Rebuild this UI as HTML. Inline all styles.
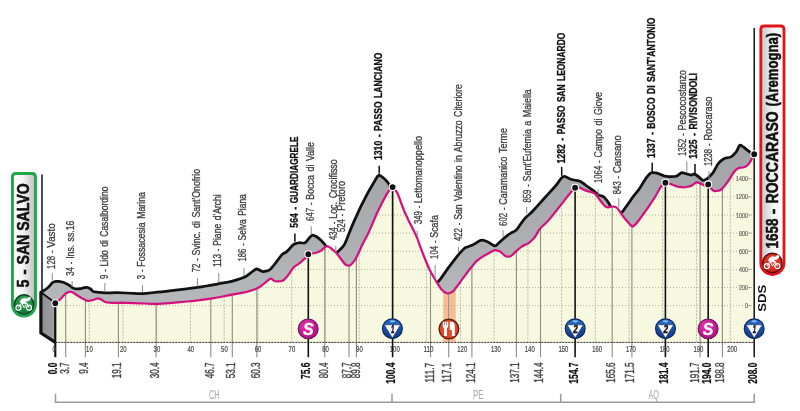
<!DOCTYPE html>
<html lang="it"><head><meta charset="utf-8"><title>Tappa 9 - San Salvo - Roccaraso (Aremogna)</title>
<style>html,body{margin:0;padding:0;background:#fff}svg{display:block}text{font-family:"Liberation Sans",sans-serif}</style></head><body>
<svg width="800" height="411" viewBox="0 0 800 411">
<defs>
<clipPath id="cf"><path d="M55.6,303.2L58.1,301.1Q59.2,300.2 60.4,299.0L61.9,297.5Q63.1,296.3 64.0,295.3L65.1,294.0Q66.0,293.0 67.2,292.6L68.8,292.0Q70.0,291.6 70.8,291.8L71.8,292.0Q72.5,292.2 74.5,293.5L77.0,295.2Q79.0,296.5 81.5,297.9L84.9,299.7Q87.4,301.1 88.8,300.9L90.6,300.5Q92.0,300.3 93.8,299.7L96.3,298.8Q98.1,298.2 99.1,298.6L100.5,299.1Q101.5,299.5 102.5,300.3L103.9,301.3Q104.9,302.1 107.0,302.4L109.9,302.7Q112.0,303.0 114.4,302.9L117.6,302.8Q120.0,302.7 126.0,302.8L134.0,303.1Q140.0,303.2 144.8,303.5L151.2,303.8Q156.0,304.1 161.7,303.7L169.3,303.1Q175.0,302.6 180.1,302.1L186.9,301.5Q192.0,301.0 197.8,300.3L205.6,299.3Q211.4,298.6 214.0,298.1L217.4,297.5Q220.0,297.0 222.8,296.5L226.7,295.7Q229.5,295.2 234.8,294.2L241.8,292.9Q247.0,291.9 250.5,290.7L255.1,289.2Q258.6,288.0 260.9,286.1L264.1,283.5Q266.4,281.6 267.7,280.6L269.4,279.2Q270.7,278.2 272.1,279.2L273.8,280.6Q275.2,281.6 277.5,281.4L280.7,281.2Q283.0,281.0 284.4,279.4L286.4,277.3Q287.8,275.7 289.6,273.1L291.9,269.6Q293.7,267.0 295.1,266.1L297.1,264.9Q298.5,264.0 300.5,262.3L303.3,259.9Q305.3,258.2 306.2,257.0L307.3,255.5Q308.2,254.3 309.9,254.1L312.1,253.7Q313.8,253.5 316.0,252.8L318.8,251.8Q321.0,251.0 322.6,249.4L324.8,247.3Q326.4,245.7 327.6,246.3L329.1,247.1Q330.3,247.7 332.0,249.1L334.4,251.1Q336.1,252.5 338.7,256.0L342.3,260.7Q344.9,264.2 345.8,264.7L346.9,265.3Q347.8,265.8 348.7,265.6L349.8,265.4Q350.7,265.2 352.2,263.4L354.1,261.1Q355.6,259.3 357.6,255.0L360.2,249.3Q362.1,245.0 364.1,241.2L366.9,236.0Q368.9,232.2 371.2,226.6L374.4,219.2Q376.7,213.7 378.7,209.6L381.5,204.1Q383.5,200.0 385.0,197.4L386.9,193.9Q388.4,191.3 389.6,190.0L391.1,188.2Q392.3,186.8 393.8,188.4L395.7,190.6Q397.2,192.2 399.4,198.0L402.2,205.8Q404.4,211.7 406.3,215.5L408.7,220.7Q410.6,224.5 412.4,227.9L414.7,232.6Q416.5,236.0 417.9,240.0L419.7,245.2Q421.1,249.2 423.4,255.0L426.6,262.8Q428.9,268.6 431.2,272.7L434.4,278.2Q436.7,282.3 438.2,284.6L440.1,287.7Q441.6,290.0 443.3,291.2L445.7,292.7Q447.4,293.9 449.1,293.2L451.5,292.3Q453.2,291.6 455.2,288.8L458.0,285.1Q460.0,282.3 462.3,279.1L465.5,274.8Q467.8,271.6 470.1,268.7L473.3,264.7Q475.6,261.8 477.3,260.5L479.7,258.7Q481.4,257.4 483.7,256.0L486.9,254.2Q489.2,252.8 490.9,251.9L493.3,250.8Q495.0,249.9 496.5,250.3L498.4,250.8Q499.9,251.2 501.6,252.8L504.0,255.0Q505.7,256.7 507.2,256.7L509.1,256.7Q510.6,256.7 512.3,255.0L514.7,252.6Q516.4,250.9 518.2,249.4L520.5,247.5Q522.3,246.0 524.3,245.1L527.1,244.0Q529.1,243.1 530.8,241.3L533.2,239.0Q534.9,237.2 536.4,234.6L538.3,231.1Q539.8,228.5 542.1,226.5L545.2,223.7Q547.5,221.7 550.6,217.9L554.7,212.7Q557.8,208.9 560.7,205.1L564.6,200.1Q567.5,196.3 569.0,194.5L570.9,192.2Q572.4,190.4 573.2,189.6L574.2,188.6Q575.0,187.8 576.3,187.6L578.0,187.4Q579.3,187.2 580.8,188.1L582.7,189.3Q584.2,190.2 587.4,191.1L591.7,192.2Q594.9,193.1 596.3,195.1L598.3,197.9Q599.7,199.9 601.6,202.2L604.1,205.4Q606.0,207.7 608.2,207.3L611.2,206.7Q613.4,206.3 614.6,206.7L616.1,207.3Q617.3,207.7 619.0,210.3L621.4,213.8Q623.1,216.4 624.8,218.4L627.2,221.2Q628.9,223.2 629.9,224.4L631.4,225.9Q632.4,227.1 633.7,225.9L635.4,224.4Q636.7,223.2 639.0,220.0L642.2,215.7Q644.5,212.5 645.4,211.3L646.6,209.6Q647.5,208.4 649.8,204.9L653.0,200.2Q655.3,196.7 657.0,193.5L659.4,189.2Q661.1,186.0 662.5,185.0L664.2,183.7Q665.6,182.7 667.2,183.1L669.3,183.6Q670.9,184.0 672.6,184.8L675.0,185.8Q676.7,186.6 679.0,186.8L682.2,187.2Q684.5,187.4 686.5,187.0L689.3,186.4Q691.3,186.0 692.7,184.8L694.7,183.3Q696.1,182.1 697.3,182.4L698.8,182.8Q700.0,183.1 701.5,184.0L703.4,185.1Q704.9,186.0 705.9,185.5L707.2,184.9Q708.2,184.4 709.2,185.9L710.7,187.9Q711.7,189.4 712.6,190.0L713.7,190.7Q714.6,191.3 716.3,191.0L718.7,190.6Q720.4,190.3 721.6,189.1L723.1,187.6Q724.3,186.4 725.8,184.4L727.7,181.6Q729.2,179.6 730.6,177.3L732.6,174.1Q734.0,171.8 735.2,170.6L736.7,169.1Q737.9,167.9 740.2,167.6L743.4,167.3Q745.7,167.0 746.9,165.8L748.4,164.3Q749.6,163.1 750.5,161.3L751.6,159.0Q752.5,157.2 753.0,156.3L754.1,154.3L754.1,342.4L55.3,342.4Z"/></clipPath>
<linearGradient id="gband" gradientUnits="userSpaceOnUse" x1="0" y1="140" x2="0" y2="310"><stop offset="0" stop-color="#a0a2a5"/><stop offset="1" stop-color="#b6b8bb"/></linearGradient>
<linearGradient id="gside" x1="0" y1="0" x2="1" y2="0"><stop offset="0" stop-color="#8e8f93"/><stop offset="1" stop-color="#a0a1a5"/></linearGradient>
<linearGradient id="gstart" x1="0" y1="0" x2="1" y2="0"><stop offset="0" stop-color="#ffffff"/><stop offset="0.45" stop-color="#f4f4f4"/><stop offset="1" stop-color="#bdbdbf"/></linearGradient>
<linearGradient id="gfin" x1="0" y1="0" x2="1" y2="0"><stop offset="0" stop-color="#c4c5c7"/><stop offset="0.55" stop-color="#f6f6f6"/><stop offset="1" stop-color="#ffffff"/></linearGradient>
<radialGradient id="gS" cx="0.4" cy="0.35" r="0.8"><stop offset="0" stop-color="#e23cae"/><stop offset="0.6" stop-color="#c0198f"/><stop offset="1" stop-color="#8f1070"/></radialGradient>
<linearGradient id="gB" x1="0" y1="0" x2="0" y2="1"><stop offset="0" stop-color="#2f72c8"/><stop offset="0.5" stop-color="#1b4fa3"/><stop offset="1" stop-color="#143a80"/></linearGradient>
<radialGradient id="gG" cx="0.5" cy="0.3" r="0.8"><stop offset="0" stop-color="#3aa858"/><stop offset="1" stop-color="#0c6f30"/></radialGradient>
<radialGradient id="gR" cx="0.5" cy="0.4" r="0.8"><stop offset="0" stop-color="#e8452c"/><stop offset="1" stop-color="#c4141a"/></radialGradient>
</defs>
<rect width="800" height="411" fill="#fff"/>
<path d="M40.9,292.3L44.2,290.3Q45.6,289.5 46.8,288.5L48.3,287.3Q49.5,286.3 50.4,285.0L51.7,283.3Q52.6,282.0 54.0,281.8L55.9,281.4Q57.3,281.2 59.0,281.4L61.4,281.8Q63.1,282.0 65.2,283.1L67.9,284.5Q70.0,285.6 71.1,286.6L72.7,287.8Q73.8,288.8 75.5,288.8L77.9,288.9Q79.6,288.9 81.6,288.4L84.4,287.6Q86.4,287.1 87.6,287.5L89.1,288.1Q90.3,288.5 91.2,289.5L92.3,290.8Q93.2,291.8 97.0,292.2L102.1,292.6Q105.9,293.0 110.1,292.9L115.8,292.7Q120.0,292.6 126.1,293.0L134.3,293.4Q140.4,293.8 146.3,293.3L154.1,292.5Q160.0,292.0 171.3,290.6L186.5,288.8Q197.8,287.4 201.5,286.8L206.3,286.0Q210.0,285.4 213.0,284.8L217.0,284.1Q220.0,283.5 223.4,282.9L228.0,282.2Q231.4,281.6 235.8,280.1L241.6,278.2Q246.0,276.7 247.7,275.2L250.1,273.3Q251.8,271.8 253.3,270.8L255.2,269.5Q256.7,268.5 258.4,269.5L260.8,270.8Q262.5,271.8 264.5,271.4L267.3,270.9Q269.3,270.5 270.8,268.9L272.7,266.6Q274.2,265.0 276.5,261.8L279.7,257.5Q282.0,254.3 283.4,253.6L285.4,252.6Q286.8,251.8 288.9,249.5L291.6,246.3Q293.7,244.0 295.4,243.6L297.8,243.0Q299.5,242.6 301.2,242.8L303.6,243.0Q305.3,243.2 307.2,240.6L309.9,237.2Q311.8,234.6 313.3,235.2L315.2,236.0Q316.7,236.6 318.2,237.9L320.1,239.6Q321.6,240.9 322.7,242.2L324.3,243.8Q325.4,245.1 326.5,246.6L327.9,248.5Q329.0,250.0 330.3,251.5L332.0,253.4Q333.3,254.9 334.4,254.2L336.0,253.2Q337.1,252.5 339.4,250.2L342.4,247.2Q344.6,245.0 346.6,239.7L349.4,232.6Q351.4,227.3 353.7,222.1L356.9,215.1Q359.2,209.8 361.5,205.1L364.7,198.9Q367.0,194.2 369.0,190.7L371.8,186.0Q373.8,182.5 375.3,180.0L377.2,176.8Q378.7,174.3 380.7,175.9L383.5,178.0Q385.5,179.6 386.7,181.1L388.2,183.0Q389.4,184.5 390.2,187.9L391.2,192.6Q392.0,196.0 394.4,203.2L397.6,212.8Q400.0,220.0 403.0,227.5L407.0,237.5Q410.0,245.0 414.5,254.0L420.5,266.0Q425.0,275.0 427.2,277.6L430.2,281.1Q432.5,283.7 434.2,283.3L436.5,282.7Q438.2,282.3 441.3,277.9L445.3,272.1Q448.4,267.7 451.3,263.9L455.2,258.8Q458.1,255.0 460.1,252.8L462.9,249.8Q464.9,247.5 465.8,247.3L466.9,247.2Q467.8,247.0 469.8,246.1L472.6,244.9Q474.6,244.0 476.6,242.7L479.4,240.9Q481.4,239.6 483.4,240.3L486.2,241.3Q488.2,242.1 490.2,243.4L493.0,245.2Q495.0,246.6 497.0,244.7L499.8,242.1Q501.8,240.2 503.8,238.4L506.6,236.1Q508.6,234.3 510.9,233.1L514.1,231.6Q516.4,230.4 518.7,226.9L521.9,222.3Q524.2,218.8 526.5,216.8L529.7,214.0Q532.0,212.0 533.3,210.5L535.1,208.5Q536.4,207.0 539.3,203.8L543.2,199.5Q546.1,196.3 549.0,193.1L553.0,188.8Q555.9,185.6 558.1,182.6L561.0,178.5Q563.2,175.5 565.7,176.7L569.0,178.4Q571.5,179.6 574.1,180.0L577.7,180.6Q580.3,181.0 582.3,182.6L585.1,184.7Q587.1,186.3 589.1,187.7L591.9,189.7Q593.9,191.1 595.4,192.3L597.3,193.8Q598.8,195.0 600.2,195.5L602.2,196.1Q603.6,196.6 604.8,197.9L606.3,199.6Q607.5,200.9 608.9,203.3L610.6,206.6Q612.0,209.0 614.0,210.9L616.6,213.3Q618.6,215.2 619.6,214.4L621.1,213.3Q622.1,212.5 625.3,207.8L629.6,201.7Q632.8,197.0 634.9,194.4L637.6,191.1Q639.7,188.5 641.7,185.1L644.5,180.6Q646.5,177.2 647.9,175.8L649.6,173.8Q651.0,172.4 652.9,172.6L655.3,172.8Q657.2,173.0 658.7,173.7L660.6,174.6Q662.1,175.3 664.1,175.8L666.9,176.4Q668.9,176.8 671.2,176.7L674.4,176.5Q676.7,176.3 678.2,175.1L680.1,173.6Q681.6,172.4 683.0,172.8L685.0,173.3Q686.4,173.7 687.9,174.2L689.8,174.8Q691.3,175.3 692.2,174.8L693.3,174.2Q694.2,173.7 695.4,174.5L696.9,175.5Q698.1,176.3 699.6,177.6L701.5,179.4Q703.0,180.7 704.1,180.2L705.7,179.6Q706.8,179.2 708.3,177.7L710.2,175.8Q711.7,174.3 712.3,173.6L713.0,172.6Q713.6,171.8 714.8,169.6L716.3,166.8Q717.5,164.6 718.1,163.8L718.9,162.8Q719.5,162.1 720.9,160.9L722.9,159.4Q724.3,158.2 726.3,157.9L729.1,157.5Q731.1,157.2 732.6,155.8L734.5,153.8Q736.0,152.4 737.2,150.1L738.7,146.9Q739.9,144.6 740.8,145.2L741.9,145.9Q742.8,146.5 744.0,147.4L745.5,148.6Q746.7,149.5 748.0,150.6L749.7,151.9Q751.0,153.0 751.9,153.4L754.1,154.3L754.1,342.4L55.3,342.4L55.3,303.5Z" fill="url(#gband)"/>
<path d="M40.9,292.3L44.2,290.3Q45.6,289.5 46.8,288.5L48.3,287.3Q49.5,286.3 50.4,285.0L51.7,283.3Q52.6,282.0 54.0,281.8L55.9,281.4Q57.3,281.2 59.0,281.4L61.4,281.8Q63.1,282.0 65.2,283.1L67.9,284.5Q70.0,285.6 71.1,286.6L72.7,287.8Q73.8,288.8 75.5,288.8L77.9,288.9Q79.6,288.9 81.6,288.4L84.4,287.6Q86.4,287.1 87.6,287.5L89.1,288.1Q90.3,288.5 91.2,289.5L92.3,290.8Q93.2,291.8 97.0,292.2L102.1,292.6Q105.9,293.0 110.1,292.9L115.8,292.7Q120.0,292.6 126.1,293.0L134.3,293.4Q140.4,293.8 146.3,293.3L154.1,292.5Q160.0,292.0 171.3,290.6L186.5,288.8Q197.8,287.4 201.5,286.8L206.3,286.0Q210.0,285.4 213.0,284.8L217.0,284.1Q220.0,283.5 223.4,282.9L228.0,282.2Q231.4,281.6 235.8,280.1L241.6,278.2Q246.0,276.7 247.7,275.2L250.1,273.3Q251.8,271.8 253.3,270.8L255.2,269.5Q256.7,268.5 258.4,269.5L260.8,270.8Q262.5,271.8 264.5,271.4L267.3,270.9Q269.3,270.5 270.8,268.9L272.7,266.6Q274.2,265.0 276.5,261.8L279.7,257.5Q282.0,254.3 283.4,253.6L285.4,252.6Q286.8,251.8 288.9,249.5L291.6,246.3Q293.7,244.0 295.4,243.6L297.8,243.0Q299.5,242.6 301.2,242.8L303.6,243.0Q305.3,243.2 307.2,240.6L309.9,237.2Q311.8,234.6 313.3,235.2L315.2,236.0Q316.7,236.6 318.2,237.9L320.1,239.6Q321.6,240.9 322.7,242.2L324.3,243.8Q325.4,245.1 326.5,246.6L327.9,248.5Q329.0,250.0 330.3,251.5L332.0,253.4Q333.3,254.9 334.4,254.2L336.0,253.2Q337.1,252.5 339.4,250.2L342.4,247.2Q344.6,245.0 346.6,239.7L349.4,232.6Q351.4,227.3 353.7,222.1L356.9,215.1Q359.2,209.8 361.5,205.1L364.7,198.9Q367.0,194.2 369.0,190.7L371.8,186.0Q373.8,182.5 375.3,180.0L377.2,176.8Q378.7,174.3 380.7,175.9L383.5,178.0Q385.5,179.6 386.7,181.1L388.2,183.0Q389.4,184.5 390.2,187.9L391.2,192.6Q392.0,196.0 394.4,203.2L397.6,212.8Q400.0,220.0 403.0,227.5L407.0,237.5Q410.0,245.0 414.5,254.0L420.5,266.0Q425.0,275.0 427.2,277.6L430.2,281.1Q432.5,283.7 434.2,283.3L436.5,282.7Q438.2,282.3 441.3,277.9L445.3,272.1Q448.4,267.7 451.3,263.9L455.2,258.8Q458.1,255.0 460.1,252.8L462.9,249.8Q464.9,247.5 465.8,247.3L466.9,247.2Q467.8,247.0 469.8,246.1L472.6,244.9Q474.6,244.0 476.6,242.7L479.4,240.9Q481.4,239.6 483.4,240.3L486.2,241.3Q488.2,242.1 490.2,243.4L493.0,245.2Q495.0,246.6 497.0,244.7L499.8,242.1Q501.8,240.2 503.8,238.4L506.6,236.1Q508.6,234.3 510.9,233.1L514.1,231.6Q516.4,230.4 518.7,226.9L521.9,222.3Q524.2,218.8 526.5,216.8L529.7,214.0Q532.0,212.0 533.3,210.5L535.1,208.5Q536.4,207.0 539.3,203.8L543.2,199.5Q546.1,196.3 549.0,193.1L553.0,188.8Q555.9,185.6 558.1,182.6L561.0,178.5Q563.2,175.5 565.7,176.7L569.0,178.4Q571.5,179.6 574.1,180.0L577.7,180.6Q580.3,181.0 582.3,182.6L585.1,184.7Q587.1,186.3 589.1,187.7L591.9,189.7Q593.9,191.1 595.4,192.3L597.3,193.8Q598.8,195.0 600.2,195.5L602.2,196.1Q603.6,196.6 604.8,197.9L606.3,199.6Q607.5,200.9 608.9,203.3L610.6,206.6Q612.0,209.0 614.0,210.9L616.6,213.3Q618.6,215.2 619.6,214.4L621.1,213.3Q622.1,212.5 625.3,207.8L629.6,201.7Q632.8,197.0 634.9,194.4L637.6,191.1Q639.7,188.5 641.7,185.1L644.5,180.6Q646.5,177.2 647.9,175.8L649.6,173.8Q651.0,172.4 652.9,172.6L655.3,172.8Q657.2,173.0 658.7,173.7L660.6,174.6Q662.1,175.3 664.1,175.8L666.9,176.4Q668.9,176.8 671.2,176.7L674.4,176.5Q676.7,176.3 678.2,175.1L680.1,173.6Q681.6,172.4 683.0,172.8L685.0,173.3Q686.4,173.7 687.9,174.2L689.8,174.8Q691.3,175.3 692.2,174.8L693.3,174.2Q694.2,173.7 695.4,174.5L696.9,175.5Q698.1,176.3 699.6,177.6L701.5,179.4Q703.0,180.7 704.1,180.2L705.7,179.6Q706.8,179.2 708.3,177.7L710.2,175.8Q711.7,174.3 712.3,173.6L713.0,172.6Q713.6,171.8 714.8,169.6L716.3,166.8Q717.5,164.6 718.1,163.8L718.9,162.8Q719.5,162.1 720.9,160.9L722.9,159.4Q724.3,158.2 726.3,157.9L729.1,157.5Q731.1,157.2 732.6,155.8L734.5,153.8Q736.0,152.4 737.2,150.1L738.7,146.9Q739.9,144.6 740.8,145.2L741.9,145.9Q742.8,146.5 744.0,147.4L745.5,148.6Q746.7,149.5 748.0,150.6L749.7,151.9Q751.0,153.0 751.9,153.4L754.1,154.3" fill="none" stroke="#111" stroke-width="2.75" stroke-linejoin="round" stroke-linecap="round"/>
<polygon points="40.9,292.3 55.3,303.2 55.3,342.4 40.9,333" fill="url(#gside)"/>
<path d="M55.6,303.2L58.1,301.1Q59.2,300.2 60.4,299.0L61.9,297.5Q63.1,296.3 64.0,295.3L65.1,294.0Q66.0,293.0 67.2,292.6L68.8,292.0Q70.0,291.6 70.8,291.8L71.8,292.0Q72.5,292.2 74.5,293.5L77.0,295.2Q79.0,296.5 81.5,297.9L84.9,299.7Q87.4,301.1 88.8,300.9L90.6,300.5Q92.0,300.3 93.8,299.7L96.3,298.8Q98.1,298.2 99.1,298.6L100.5,299.1Q101.5,299.5 102.5,300.3L103.9,301.3Q104.9,302.1 107.0,302.4L109.9,302.7Q112.0,303.0 114.4,302.9L117.6,302.8Q120.0,302.7 126.0,302.8L134.0,303.1Q140.0,303.2 144.8,303.5L151.2,303.8Q156.0,304.1 161.7,303.7L169.3,303.1Q175.0,302.6 180.1,302.1L186.9,301.5Q192.0,301.0 197.8,300.3L205.6,299.3Q211.4,298.6 214.0,298.1L217.4,297.5Q220.0,297.0 222.8,296.5L226.7,295.7Q229.5,295.2 234.8,294.2L241.8,292.9Q247.0,291.9 250.5,290.7L255.1,289.2Q258.6,288.0 260.9,286.1L264.1,283.5Q266.4,281.6 267.7,280.6L269.4,279.2Q270.7,278.2 272.1,279.2L273.8,280.6Q275.2,281.6 277.5,281.4L280.7,281.2Q283.0,281.0 284.4,279.4L286.4,277.3Q287.8,275.7 289.6,273.1L291.9,269.6Q293.7,267.0 295.1,266.1L297.1,264.9Q298.5,264.0 300.5,262.3L303.3,259.9Q305.3,258.2 306.2,257.0L307.3,255.5Q308.2,254.3 309.9,254.1L312.1,253.7Q313.8,253.5 316.0,252.8L318.8,251.8Q321.0,251.0 322.6,249.4L324.8,247.3Q326.4,245.7 327.6,246.3L329.1,247.1Q330.3,247.7 332.0,249.1L334.4,251.1Q336.1,252.5 338.7,256.0L342.3,260.7Q344.9,264.2 345.8,264.7L346.9,265.3Q347.8,265.8 348.7,265.6L349.8,265.4Q350.7,265.2 352.2,263.4L354.1,261.1Q355.6,259.3 357.6,255.0L360.2,249.3Q362.1,245.0 364.1,241.2L366.9,236.0Q368.9,232.2 371.2,226.6L374.4,219.2Q376.7,213.7 378.7,209.6L381.5,204.1Q383.5,200.0 385.0,197.4L386.9,193.9Q388.4,191.3 389.6,190.0L391.1,188.2Q392.3,186.8 393.8,188.4L395.7,190.6Q397.2,192.2 399.4,198.0L402.2,205.8Q404.4,211.7 406.3,215.5L408.7,220.7Q410.6,224.5 412.4,227.9L414.7,232.6Q416.5,236.0 417.9,240.0L419.7,245.2Q421.1,249.2 423.4,255.0L426.6,262.8Q428.9,268.6 431.2,272.7L434.4,278.2Q436.7,282.3 438.2,284.6L440.1,287.7Q441.6,290.0 443.3,291.2L445.7,292.7Q447.4,293.9 449.1,293.2L451.5,292.3Q453.2,291.6 455.2,288.8L458.0,285.1Q460.0,282.3 462.3,279.1L465.5,274.8Q467.8,271.6 470.1,268.7L473.3,264.7Q475.6,261.8 477.3,260.5L479.7,258.7Q481.4,257.4 483.7,256.0L486.9,254.2Q489.2,252.8 490.9,251.9L493.3,250.8Q495.0,249.9 496.5,250.3L498.4,250.8Q499.9,251.2 501.6,252.8L504.0,255.0Q505.7,256.7 507.2,256.7L509.1,256.7Q510.6,256.7 512.3,255.0L514.7,252.6Q516.4,250.9 518.2,249.4L520.5,247.5Q522.3,246.0 524.3,245.1L527.1,244.0Q529.1,243.1 530.8,241.3L533.2,239.0Q534.9,237.2 536.4,234.6L538.3,231.1Q539.8,228.5 542.1,226.5L545.2,223.7Q547.5,221.7 550.6,217.9L554.7,212.7Q557.8,208.9 560.7,205.1L564.6,200.1Q567.5,196.3 569.0,194.5L570.9,192.2Q572.4,190.4 573.2,189.6L574.2,188.6Q575.0,187.8 576.3,187.6L578.0,187.4Q579.3,187.2 580.8,188.1L582.7,189.3Q584.2,190.2 587.4,191.1L591.7,192.2Q594.9,193.1 596.3,195.1L598.3,197.9Q599.7,199.9 601.6,202.2L604.1,205.4Q606.0,207.7 608.2,207.3L611.2,206.7Q613.4,206.3 614.6,206.7L616.1,207.3Q617.3,207.7 619.0,210.3L621.4,213.8Q623.1,216.4 624.8,218.4L627.2,221.2Q628.9,223.2 629.9,224.4L631.4,225.9Q632.4,227.1 633.7,225.9L635.4,224.4Q636.7,223.2 639.0,220.0L642.2,215.7Q644.5,212.5 645.4,211.3L646.6,209.6Q647.5,208.4 649.8,204.9L653.0,200.2Q655.3,196.7 657.0,193.5L659.4,189.2Q661.1,186.0 662.5,185.0L664.2,183.7Q665.6,182.7 667.2,183.1L669.3,183.6Q670.9,184.0 672.6,184.8L675.0,185.8Q676.7,186.6 679.0,186.8L682.2,187.2Q684.5,187.4 686.5,187.0L689.3,186.4Q691.3,186.0 692.7,184.8L694.7,183.3Q696.1,182.1 697.3,182.4L698.8,182.8Q700.0,183.1 701.5,184.0L703.4,185.1Q704.9,186.0 705.9,185.5L707.2,184.9Q708.2,184.4 709.2,185.9L710.7,187.9Q711.7,189.4 712.6,190.0L713.7,190.7Q714.6,191.3 716.3,191.0L718.7,190.6Q720.4,190.3 721.6,189.1L723.1,187.6Q724.3,186.4 725.8,184.4L727.7,181.6Q729.2,179.6 730.6,177.3L732.6,174.1Q734.0,171.8 735.2,170.6L736.7,169.1Q737.9,167.9 740.2,167.6L743.4,167.3Q745.7,167.0 746.9,165.8L748.4,164.3Q749.6,163.1 750.5,161.3L751.6,159.0Q752.5,157.2 753.0,156.3L754.1,154.3L754.1,342.4L55.3,342.4Z" fill="#f7f8e0"/>
<g clip-path="url(#cf)">
<rect x="443.2" y="200" width="12.5" height="142.4" fill="#f7bc92"/>
<rect x="448.1" y="200" width="1.6" height="142.4" fill="#fbd9be"/>
<line x1="55" x2="755" y1="305.6" y2="305.6" stroke="#96977f" stroke-width="0.7" stroke-dasharray="1 2"/>
<line x1="55" x2="755" y1="287.5" y2="287.5" stroke="#96977f" stroke-width="0.7" stroke-dasharray="1 2"/>
<line x1="55" x2="755" y1="269.4" y2="269.4" stroke="#96977f" stroke-width="0.7" stroke-dasharray="1 2"/>
<line x1="55" x2="755" y1="251.2" y2="251.2" stroke="#96977f" stroke-width="0.7" stroke-dasharray="1 2"/>
<line x1="55" x2="755" y1="233.1" y2="233.1" stroke="#96977f" stroke-width="0.7" stroke-dasharray="1 2"/>
<line x1="55" x2="755" y1="215.0" y2="215.0" stroke="#96977f" stroke-width="0.7" stroke-dasharray="1 2"/>
<line x1="55" x2="755" y1="196.9" y2="196.9" stroke="#96977f" stroke-width="0.7" stroke-dasharray="1 2"/>
<line x1="55" x2="755" y1="178.8" y2="178.8" stroke="#96977f" stroke-width="0.7" stroke-dasharray="1 2"/>
<line x1="55" x2="755" y1="160.6" y2="160.6" stroke="#96977f" stroke-width="0.7" stroke-dasharray="1 2"/>
<line x1="89.2" x2="89.2" y1="140" y2="342.4" stroke="#a6a796" stroke-width="0.7" stroke-dasharray="2.2 1.2"/>
<line x1="123.0" x2="123.0" y1="140" y2="342.4" stroke="#a6a796" stroke-width="0.7" stroke-dasharray="2.2 1.2"/>
<line x1="156.7" x2="156.7" y1="140" y2="342.4" stroke="#a6a796" stroke-width="0.7" stroke-dasharray="2.2 1.2"/>
<line x1="190.5" x2="190.5" y1="140" y2="342.4" stroke="#a6a796" stroke-width="0.7" stroke-dasharray="2.2 1.2"/>
<line x1="224.2" x2="224.2" y1="140" y2="342.4" stroke="#a6a796" stroke-width="0.7" stroke-dasharray="2.2 1.2"/>
<line x1="257.9" x2="257.9" y1="140" y2="342.4" stroke="#a6a796" stroke-width="0.7" stroke-dasharray="2.2 1.2"/>
<line x1="291.7" x2="291.7" y1="140" y2="342.4" stroke="#a6a796" stroke-width="0.7" stroke-dasharray="2.2 1.2"/>
<line x1="325.4" x2="325.4" y1="140" y2="342.4" stroke="#a6a796" stroke-width="0.7" stroke-dasharray="2.2 1.2"/>
<line x1="359.2" x2="359.2" y1="140" y2="342.4" stroke="#a6a796" stroke-width="0.7" stroke-dasharray="2.2 1.2"/>
<line x1="392.9" x2="392.9" y1="140" y2="342.4" stroke="#a6a796" stroke-width="0.7" stroke-dasharray="2.2 1.2"/>
<line x1="426.6" x2="426.6" y1="140" y2="342.4" stroke="#a6a796" stroke-width="0.7" stroke-dasharray="2.2 1.2"/>
<line x1="460.4" x2="460.4" y1="140" y2="342.4" stroke="#a6a796" stroke-width="0.7" stroke-dasharray="2.2 1.2"/>
<line x1="494.1" x2="494.1" y1="140" y2="342.4" stroke="#a6a796" stroke-width="0.7" stroke-dasharray="2.2 1.2"/>
<line x1="527.9" x2="527.9" y1="140" y2="342.4" stroke="#a6a796" stroke-width="0.7" stroke-dasharray="2.2 1.2"/>
<line x1="561.6" x2="561.6" y1="140" y2="342.4" stroke="#a6a796" stroke-width="0.7" stroke-dasharray="2.2 1.2"/>
<line x1="595.3" x2="595.3" y1="140" y2="342.4" stroke="#a6a796" stroke-width="0.7" stroke-dasharray="2.2 1.2"/>
<line x1="629.1" x2="629.1" y1="140" y2="342.4" stroke="#a6a796" stroke-width="0.7" stroke-dasharray="2.2 1.2"/>
<line x1="662.8" x2="662.8" y1="140" y2="342.4" stroke="#a6a796" stroke-width="0.7" stroke-dasharray="2.2 1.2"/>
<line x1="696.6" x2="696.6" y1="140" y2="342.4" stroke="#a6a796" stroke-width="0.7" stroke-dasharray="2.2 1.2"/>
<line x1="730.3" x2="730.3" y1="140" y2="342.4" stroke="#a6a796" stroke-width="0.7" stroke-dasharray="2.2 1.2"/>
</g>
<line x1="65.7" x2="65.7" y1="293.8" y2="357.2" stroke="#8c8c84" stroke-width="1.1"/>
<line x1="85.4" x2="85.4" y1="300.5" y2="357.2" stroke="#8c8c84" stroke-width="1.1"/>
<line x1="118.4" x2="118.4" y1="303.3" y2="357.2" stroke="#8c8c84" stroke-width="1.1"/>
<line x1="156.1" x2="156.1" y1="304.6" y2="357.2" stroke="#8c8c84" stroke-width="1.1"/>
<line x1="210.8" x2="210.8" y1="299.2" y2="357.2" stroke="#8c8c84" stroke-width="1.1"/>
<line x1="232.3" x2="232.3" y1="295.2" y2="357.2" stroke="#8c8c84" stroke-width="1.1"/>
<line x1="256.9" x2="256.9" y1="289.1" y2="357.2" stroke="#8c8c84" stroke-width="1.1"/>
<line x1="324.8" x2="324.8" y1="247.8" y2="357.2" stroke="#8c8c84" stroke-width="1.1"/>
<line x1="349" x2="349" y1="266.1" y2="357.2" stroke="#8c8c84" stroke-width="1.1"/>
<line x1="356.4" x2="356.4" y1="258.0" y2="357.2" stroke="#8c8c84" stroke-width="1.1"/>
<line x1="430.5" x2="430.5" y1="271.9" y2="357.2" stroke="#8c8c84" stroke-width="1.1"/>
<line x1="448.7" x2="448.7" y1="293.9" y2="357.2" stroke="#8c8c84" stroke-width="1.1"/>
<line x1="471.9" x2="471.9" y1="266.9" y2="357.2" stroke="#8c8c84" stroke-width="1.1"/>
<line x1="516.4" x2="516.4" y1="251.4" y2="357.2" stroke="#8c8c84" stroke-width="1.1"/>
<line x1="540.5" x2="540.5" y1="228.4" y2="357.2" stroke="#8c8c84" stroke-width="1.1"/>
<line x1="612.2" x2="612.2" y1="207.0" y2="357.2" stroke="#8c8c84" stroke-width="1.1"/>
<line x1="631.9" x2="631.9" y1="227.0" y2="357.2" stroke="#8c8c84" stroke-width="1.1"/>
<line x1="700.1" x2="700.1" y1="183.7" y2="357.2" stroke="#8c8c84" stroke-width="1.1"/>
<line x1="722.4" x2="722.4" y1="188.8" y2="357.2" stroke="#8c8c84" stroke-width="1.1"/>
<path d="M55.6,303.2L58.1,301.1Q59.2,300.2 60.4,299.0L61.9,297.5Q63.1,296.3 64.0,295.3L65.1,294.0Q66.0,293.0 67.2,292.6L68.8,292.0Q70.0,291.6 70.8,291.8L71.8,292.0Q72.5,292.2 74.5,293.5L77.0,295.2Q79.0,296.5 81.5,297.9L84.9,299.7Q87.4,301.1 88.8,300.9L90.6,300.5Q92.0,300.3 93.8,299.7L96.3,298.8Q98.1,298.2 99.1,298.6L100.5,299.1Q101.5,299.5 102.5,300.3L103.9,301.3Q104.9,302.1 107.0,302.4L109.9,302.7Q112.0,303.0 114.4,302.9L117.6,302.8Q120.0,302.7 126.0,302.8L134.0,303.1Q140.0,303.2 144.8,303.5L151.2,303.8Q156.0,304.1 161.7,303.7L169.3,303.1Q175.0,302.6 180.1,302.1L186.9,301.5Q192.0,301.0 197.8,300.3L205.6,299.3Q211.4,298.6 214.0,298.1L217.4,297.5Q220.0,297.0 222.8,296.5L226.7,295.7Q229.5,295.2 234.8,294.2L241.8,292.9Q247.0,291.9 250.5,290.7L255.1,289.2Q258.6,288.0 260.9,286.1L264.1,283.5Q266.4,281.6 267.7,280.6L269.4,279.2Q270.7,278.2 272.1,279.2L273.8,280.6Q275.2,281.6 277.5,281.4L280.7,281.2Q283.0,281.0 284.4,279.4L286.4,277.3Q287.8,275.7 289.6,273.1L291.9,269.6Q293.7,267.0 295.1,266.1L297.1,264.9Q298.5,264.0 300.5,262.3L303.3,259.9Q305.3,258.2 306.2,257.0L307.3,255.5Q308.2,254.3 309.9,254.1L312.1,253.7Q313.8,253.5 316.0,252.8L318.8,251.8Q321.0,251.0 322.6,249.4L324.8,247.3Q326.4,245.7 327.6,246.3L329.1,247.1Q330.3,247.7 332.0,249.1L334.4,251.1Q336.1,252.5 338.7,256.0L342.3,260.7Q344.9,264.2 345.8,264.7L346.9,265.3Q347.8,265.8 348.7,265.6L349.8,265.4Q350.7,265.2 352.2,263.4L354.1,261.1Q355.6,259.3 357.6,255.0L360.2,249.3Q362.1,245.0 364.1,241.2L366.9,236.0Q368.9,232.2 371.2,226.6L374.4,219.2Q376.7,213.7 378.7,209.6L381.5,204.1Q383.5,200.0 385.0,197.4L386.9,193.9Q388.4,191.3 389.6,190.0L391.1,188.2Q392.3,186.8 393.8,188.4L395.7,190.6Q397.2,192.2 399.4,198.0L402.2,205.8Q404.4,211.7 406.3,215.5L408.7,220.7Q410.6,224.5 412.4,227.9L414.7,232.6Q416.5,236.0 417.9,240.0L419.7,245.2Q421.1,249.2 423.4,255.0L426.6,262.8Q428.9,268.6 431.2,272.7L434.4,278.2Q436.7,282.3 438.2,284.6L440.1,287.7Q441.6,290.0 443.3,291.2L445.7,292.7Q447.4,293.9 449.1,293.2L451.5,292.3Q453.2,291.6 455.2,288.8L458.0,285.1Q460.0,282.3 462.3,279.1L465.5,274.8Q467.8,271.6 470.1,268.7L473.3,264.7Q475.6,261.8 477.3,260.5L479.7,258.7Q481.4,257.4 483.7,256.0L486.9,254.2Q489.2,252.8 490.9,251.9L493.3,250.8Q495.0,249.9 496.5,250.3L498.4,250.8Q499.9,251.2 501.6,252.8L504.0,255.0Q505.7,256.7 507.2,256.7L509.1,256.7Q510.6,256.7 512.3,255.0L514.7,252.6Q516.4,250.9 518.2,249.4L520.5,247.5Q522.3,246.0 524.3,245.1L527.1,244.0Q529.1,243.1 530.8,241.3L533.2,239.0Q534.9,237.2 536.4,234.6L538.3,231.1Q539.8,228.5 542.1,226.5L545.2,223.7Q547.5,221.7 550.6,217.9L554.7,212.7Q557.8,208.9 560.7,205.1L564.6,200.1Q567.5,196.3 569.0,194.5L570.9,192.2Q572.4,190.4 573.2,189.6L574.2,188.6Q575.0,187.8 576.3,187.6L578.0,187.4Q579.3,187.2 580.8,188.1L582.7,189.3Q584.2,190.2 587.4,191.1L591.7,192.2Q594.9,193.1 596.3,195.1L598.3,197.9Q599.7,199.9 601.6,202.2L604.1,205.4Q606.0,207.7 608.2,207.3L611.2,206.7Q613.4,206.3 614.6,206.7L616.1,207.3Q617.3,207.7 619.0,210.3L621.4,213.8Q623.1,216.4 624.8,218.4L627.2,221.2Q628.9,223.2 629.9,224.4L631.4,225.9Q632.4,227.1 633.7,225.9L635.4,224.4Q636.7,223.2 639.0,220.0L642.2,215.7Q644.5,212.5 645.4,211.3L646.6,209.6Q647.5,208.4 649.8,204.9L653.0,200.2Q655.3,196.7 657.0,193.5L659.4,189.2Q661.1,186.0 662.5,185.0L664.2,183.7Q665.6,182.7 667.2,183.1L669.3,183.6Q670.9,184.0 672.6,184.8L675.0,185.8Q676.7,186.6 679.0,186.8L682.2,187.2Q684.5,187.4 686.5,187.0L689.3,186.4Q691.3,186.0 692.7,184.8L694.7,183.3Q696.1,182.1 697.3,182.4L698.8,182.8Q700.0,183.1 701.5,184.0L703.4,185.1Q704.9,186.0 705.9,185.5L707.2,184.9Q708.2,184.4 709.2,185.9L710.7,187.9Q711.7,189.4 712.6,190.0L713.7,190.7Q714.6,191.3 716.3,191.0L718.7,190.6Q720.4,190.3 721.6,189.1L723.1,187.6Q724.3,186.4 725.8,184.4L727.7,181.6Q729.2,179.6 730.6,177.3L732.6,174.1Q734.0,171.8 735.2,170.6L736.7,169.1Q737.9,167.9 740.2,167.6L743.4,167.3Q745.7,167.0 746.9,165.8L748.4,164.3Q749.6,163.1 750.5,161.3L751.6,159.0Q752.5,157.2 753.0,156.3L754.1,154.3" fill="none" stroke="#d4127d" stroke-width="2.25" stroke-linejoin="round" stroke-linecap="round"/>
<path d="M40.9,292.3 V333 L55.3,342.4" fill="none" stroke="#111" stroke-width="3.2" stroke-linejoin="miter"/>
<path d="M40.9,292.3 L55.6,303.2" fill="none" stroke="#111" stroke-width="1.9"/>
<line x1="55.2" x2="55.2" y1="303.2" y2="342.4" stroke="#222" stroke-width="1.2"/>
<line x1="55.3" x2="754.2" y1="342.4" y2="342.4" stroke="#333" stroke-width="1" stroke-dasharray="2 1"/>
<line x1="42" x2="42" y1="174.5" y2="292" stroke="#111" stroke-width="1.5"/>
<line x1="754.2" x2="754.2" y1="28" y2="357.2" stroke="#111" stroke-width="1.5"/>
<line x1="55.3" x2="55.3" y1="303.2" y2="357.2" stroke="#111" stroke-width="2.1"/>
<circle cx="55.3" cy="303.2" r="3.5" fill="#111" stroke="#fff" stroke-width="1.1"/>
<line x1="308.3" x2="308.3" y1="254.3" y2="357.2" stroke="#111" stroke-width="1.6"/>
<circle cx="308.3" cy="254.3" r="3.5" fill="#111" stroke="#fff" stroke-width="1.1"/>
<line x1="392.6" x2="392.6" y1="187.1" y2="357.2" stroke="#111" stroke-width="1.6"/>
<circle cx="392.6" cy="187.1" r="3.5" fill="#111" stroke="#fff" stroke-width="1.1"/>
<line x1="575.1" x2="575.1" y1="187.8" y2="357.2" stroke="#111" stroke-width="1.6"/>
<circle cx="575.1" cy="187.8" r="3.5" fill="#111" stroke="#fff" stroke-width="1.1"/>
<line x1="665.4" x2="665.4" y1="182.8" y2="357.2" stroke="#111" stroke-width="1.6"/>
<circle cx="665.4" cy="182.8" r="3.5" fill="#111" stroke="#fff" stroke-width="1.1"/>
<line x1="708.2" x2="708.2" y1="184.4" y2="357.2" stroke="#111" stroke-width="1.6"/>
<circle cx="708.2" cy="184.4" r="3.5" fill="#111" stroke="#fff" stroke-width="1.1"/>
<circle cx="754.2" cy="154.3" r="3.5" fill="#111" stroke="#fff" stroke-width="1.1"/>
<text x="52.4" y="352.2" font-size="8.6" fill="#444" stroke="#444" stroke-width="0.2" textLength="3.3" lengthAdjust="spacingAndGlyphs">0</text>
<text x="86.1" y="352.2" font-size="8.6" fill="#444" stroke="#444" stroke-width="0.2" textLength="6.6" lengthAdjust="spacingAndGlyphs">10</text>
<text x="119.9" y="352.2" font-size="8.6" fill="#444" stroke="#444" stroke-width="0.2" textLength="6.6" lengthAdjust="spacingAndGlyphs">20</text>
<text x="153.6" y="352.2" font-size="8.6" fill="#444" stroke="#444" stroke-width="0.2" textLength="6.6" lengthAdjust="spacingAndGlyphs">30</text>
<text x="187.4" y="352.2" font-size="8.6" fill="#444" stroke="#444" stroke-width="0.2" textLength="6.6" lengthAdjust="spacingAndGlyphs">40</text>
<text x="221.1" y="352.2" font-size="8.6" fill="#444" stroke="#444" stroke-width="0.2" textLength="6.6" lengthAdjust="spacingAndGlyphs">50</text>
<text x="254.8" y="352.2" font-size="8.6" fill="#444" stroke="#444" stroke-width="0.2" textLength="6.6" lengthAdjust="spacingAndGlyphs">60</text>
<text x="288.6" y="352.2" font-size="8.6" fill="#444" stroke="#444" stroke-width="0.2" textLength="6.6" lengthAdjust="spacingAndGlyphs">70</text>
<text x="322.3" y="352.2" font-size="8.6" fill="#444" stroke="#444" stroke-width="0.2" textLength="6.6" lengthAdjust="spacingAndGlyphs">80</text>
<text x="356.1" y="352.2" font-size="8.6" fill="#444" stroke="#444" stroke-width="0.2" textLength="6.6" lengthAdjust="spacingAndGlyphs">90</text>
<text x="389.8" y="352.2" font-size="8.6" fill="#444" stroke="#444" stroke-width="0.2" textLength="9.9" lengthAdjust="spacingAndGlyphs">100</text>
<text x="423.5" y="352.2" font-size="8.6" fill="#444" stroke="#444" stroke-width="0.2" textLength="9.9" lengthAdjust="spacingAndGlyphs">110</text>
<text x="457.3" y="352.2" font-size="8.6" fill="#444" stroke="#444" stroke-width="0.2" textLength="9.9" lengthAdjust="spacingAndGlyphs">120</text>
<text x="491.0" y="352.2" font-size="8.6" fill="#444" stroke="#444" stroke-width="0.2" textLength="9.9" lengthAdjust="spacingAndGlyphs">130</text>
<text x="524.8" y="352.2" font-size="8.6" fill="#444" stroke="#444" stroke-width="0.2" textLength="9.9" lengthAdjust="spacingAndGlyphs">140</text>
<text x="558.5" y="352.2" font-size="8.6" fill="#444" stroke="#444" stroke-width="0.2" textLength="9.9" lengthAdjust="spacingAndGlyphs">150</text>
<text x="592.2" y="352.2" font-size="8.6" fill="#444" stroke="#444" stroke-width="0.2" textLength="9.9" lengthAdjust="spacingAndGlyphs">160</text>
<text x="626.0" y="352.2" font-size="8.6" fill="#444" stroke="#444" stroke-width="0.2" textLength="9.9" lengthAdjust="spacingAndGlyphs">170</text>
<text x="659.7" y="352.2" font-size="8.6" fill="#444" stroke="#444" stroke-width="0.2" textLength="9.9" lengthAdjust="spacingAndGlyphs">180</text>
<text x="693.5" y="352.2" font-size="8.6" fill="#444" stroke="#444" stroke-width="0.2" textLength="9.9" lengthAdjust="spacingAndGlyphs">190</text>
<text x="727.2" y="352.2" font-size="8.6" fill="#444" stroke="#444" stroke-width="0.2" textLength="9.9" lengthAdjust="spacingAndGlyphs">200</text>
<text x="748" y="308.1" font-size="7.2" fill="#5c5c5c" stroke="#5c5c5c" stroke-width="0.15" text-anchor="end" textLength="3" lengthAdjust="spacingAndGlyphs">0</text>
<line x1="748.9" x2="750.7" y1="305.6" y2="305.6" stroke="#707070" stroke-width="0.7"/>
<text x="748" y="290.0" font-size="7.2" fill="#5c5c5c" stroke="#5c5c5c" stroke-width="0.15" text-anchor="end" textLength="9" lengthAdjust="spacingAndGlyphs">200</text>
<line x1="748.9" x2="750.7" y1="287.5" y2="287.5" stroke="#707070" stroke-width="0.7"/>
<text x="748" y="271.9" font-size="7.2" fill="#5c5c5c" stroke="#5c5c5c" stroke-width="0.15" text-anchor="end" textLength="9" lengthAdjust="spacingAndGlyphs">400</text>
<line x1="748.9" x2="750.7" y1="269.4" y2="269.4" stroke="#707070" stroke-width="0.7"/>
<text x="748" y="253.7" font-size="7.2" fill="#5c5c5c" stroke="#5c5c5c" stroke-width="0.15" text-anchor="end" textLength="9" lengthAdjust="spacingAndGlyphs">600</text>
<line x1="748.9" x2="750.7" y1="251.2" y2="251.2" stroke="#707070" stroke-width="0.7"/>
<text x="748" y="235.6" font-size="7.2" fill="#5c5c5c" stroke="#5c5c5c" stroke-width="0.15" text-anchor="end" textLength="9" lengthAdjust="spacingAndGlyphs">800</text>
<line x1="748.9" x2="750.7" y1="233.1" y2="233.1" stroke="#707070" stroke-width="0.7"/>
<text x="748" y="217.5" font-size="7.2" fill="#5c5c5c" stroke="#5c5c5c" stroke-width="0.15" text-anchor="end" textLength="12" lengthAdjust="spacingAndGlyphs">1000</text>
<line x1="748.9" x2="750.7" y1="215.0" y2="215.0" stroke="#707070" stroke-width="0.7"/>
<text x="748" y="199.4" font-size="7.2" fill="#5c5c5c" stroke="#5c5c5c" stroke-width="0.15" text-anchor="end" textLength="12" lengthAdjust="spacingAndGlyphs">1200</text>
<line x1="748.9" x2="750.7" y1="196.9" y2="196.9" stroke="#707070" stroke-width="0.7"/>
<text x="748" y="181.3" font-size="7.2" fill="#5c5c5c" stroke="#5c5c5c" stroke-width="0.15" text-anchor="end" textLength="12" lengthAdjust="spacingAndGlyphs">1400</text>
<line x1="748.9" x2="750.7" y1="178.8" y2="178.8" stroke="#707070" stroke-width="0.7"/>
<text transform="translate(54.6,268.9) rotate(-90)" font-size="10.5" fill="#3e3e3e" stroke="#3e3e3e" stroke-width="0.33"><tspan x="0" textLength="12.9" lengthAdjust="spacingAndGlyphs">128</tspan> <tspan x="15.8" textLength="2.5" lengthAdjust="spacingAndGlyphs">-</tspan> <tspan x="21.2" word-spacing="1.3" textLength="24.5" lengthAdjust="spacingAndGlyphs">Vasto</tspan></text>
<line x1="52.3" x2="52.3" y1="273.2" y2="280.5" stroke="#8a8a8a" stroke-width="1"/>
<text transform="translate(73.5,275.7) rotate(-90)" font-size="10.5" fill="#3e3e3e" stroke="#3e3e3e" stroke-width="0.33"><tspan x="0" textLength="8.6" lengthAdjust="spacingAndGlyphs">34</tspan> <tspan x="11.5" textLength="2.5" lengthAdjust="spacingAndGlyphs">-</tspan> <tspan x="16.9" word-spacing="1.3" textLength="38.1" lengthAdjust="spacingAndGlyphs">Ins. ss.16</tspan></text>
<line x1="72.1" x2="72.1" y1="281" y2="287" stroke="#8a8a8a" stroke-width="1"/>
<text transform="translate(108,279.0) rotate(-90)" font-size="10.5" fill="#3e3e3e" stroke="#3e3e3e" stroke-width="0.33"><tspan x="0" textLength="4.3" lengthAdjust="spacingAndGlyphs">9</tspan> <tspan x="7.2" textLength="2.5" lengthAdjust="spacingAndGlyphs">-</tspan> <tspan x="12.6" word-spacing="1.3" textLength="79.9" lengthAdjust="spacingAndGlyphs">Lido di Casalbordino</tspan></text>
<line x1="104.9" x2="104.9" y1="283" y2="291.8" stroke="#8a8a8a" stroke-width="1"/>
<text transform="translate(145.4,279.3) rotate(-90)" font-size="10.5" fill="#3e3e3e" stroke="#3e3e3e" stroke-width="0.33"><tspan x="0" textLength="4.3" lengthAdjust="spacingAndGlyphs">3</tspan> <tspan x="7.2" textLength="2.5" lengthAdjust="spacingAndGlyphs">-</tspan> <tspan x="12.6" word-spacing="1.3" textLength="74.7" lengthAdjust="spacingAndGlyphs">Fossacesia Marina</tspan></text>
<line x1="142.4" x2="142.4" y1="285" y2="292" stroke="#8a8a8a" stroke-width="1"/>
<text transform="translate(200,272.3) rotate(-90)" font-size="10.5" fill="#3e3e3e" stroke="#3e3e3e" stroke-width="0.33"><tspan x="0" textLength="8.6" lengthAdjust="spacingAndGlyphs">72</tspan> <tspan x="11.5" textLength="2.5" lengthAdjust="spacingAndGlyphs">-</tspan> <tspan x="16.9" word-spacing="1.3" textLength="86.5" lengthAdjust="spacingAndGlyphs">Svinc. di Sant&#39;Onofrio</tspan></text>
<line x1="197.4" x2="197.4" y1="278.2" y2="286.6" stroke="#8a8a8a" stroke-width="1"/>
<text transform="translate(220.9,267.0) rotate(-90)" font-size="10.5" fill="#3e3e3e" stroke="#3e3e3e" stroke-width="0.33"><tspan x="0" textLength="12.9" lengthAdjust="spacingAndGlyphs">113</tspan> <tspan x="15.8" textLength="2.5" lengthAdjust="spacingAndGlyphs">-</tspan> <tspan x="21.2" word-spacing="1.3" textLength="51.6" lengthAdjust="spacingAndGlyphs">Piane d&#39;Archi</tspan></text>
<line x1="218.8" x2="218.8" y1="273" y2="282.5" stroke="#8a8a8a" stroke-width="1"/>
<text transform="translate(246,261.6) rotate(-90)" font-size="10.5" fill="#3e3e3e" stroke="#3e3e3e" stroke-width="0.33"><tspan x="0" textLength="12.9" lengthAdjust="spacingAndGlyphs">186</tspan> <tspan x="15.8" textLength="2.5" lengthAdjust="spacingAndGlyphs">-</tspan> <tspan x="21.2" word-spacing="1.3" textLength="46.2" lengthAdjust="spacingAndGlyphs">Selva Piana</tspan></text>
<line x1="244" x2="244" y1="268" y2="276" stroke="#8a8a8a" stroke-width="1"/>
<text transform="translate(297.8,227.7) rotate(-90)" font-size="11.6" font-weight="bold" fill="#111" stroke="#111" stroke-width="0.3"><tspan x="0" textLength="14.5" lengthAdjust="spacingAndGlyphs">564</tspan> <tspan x="17.9" textLength="3.1" lengthAdjust="spacingAndGlyphs">-</tspan> <tspan x="24.4" word-spacing="1.3" textLength="66.9" lengthAdjust="spacingAndGlyphs">GUARDIAGRELE</tspan></text>
<line x1="294.9" x2="294.9" y1="233.5" y2="241.8" stroke="#111" stroke-width="1.5"/>
<text transform="translate(313.8,220.9) rotate(-90)" font-size="10.5" fill="#3e3e3e" stroke="#3e3e3e" stroke-width="0.33"><tspan x="0" textLength="12.9" lengthAdjust="spacingAndGlyphs">647</tspan> <tspan x="15.8" textLength="2.5" lengthAdjust="spacingAndGlyphs">-</tspan> <tspan x="21.2" word-spacing="1.3" textLength="57.7" lengthAdjust="spacingAndGlyphs">Bocca di Valle</tspan></text>
<line x1="311.2" x2="311.2" y1="226.3" y2="234.6" stroke="#8a8a8a" stroke-width="1"/>
<text transform="translate(336.7,240.0) rotate(-90)" font-size="10.5" fill="#3e3e3e" stroke="#3e3e3e" stroke-width="0.33"><tspan x="0" textLength="12.9" lengthAdjust="spacingAndGlyphs">434</tspan> <tspan x="15.8" textLength="2.5" lengthAdjust="spacingAndGlyphs">-</tspan> <tspan x="21.2" word-spacing="1.3" textLength="59.6" lengthAdjust="spacingAndGlyphs">Loc. Crocifisso</tspan></text>
<line x1="335.8" x2="335.8" y1="245.7" y2="252.5" stroke="#8a8a8a" stroke-width="1"/>
<text transform="translate(344.9,232.0) rotate(-90)" font-size="10.5" fill="#3e3e3e" stroke="#3e3e3e" stroke-width="0.33"><tspan x="0" textLength="12.9" lengthAdjust="spacingAndGlyphs">524</tspan> <tspan x="15.8" textLength="2.5" lengthAdjust="spacingAndGlyphs">-</tspan> <tspan x="21.2" word-spacing="1.3" textLength="29.8" lengthAdjust="spacingAndGlyphs">Pretoro</tspan></text>
<text transform="translate(381.5,160.1) rotate(-90)" font-size="11.6" font-weight="bold" fill="#111" stroke="#111" stroke-width="0.3"><tspan x="0" textLength="19.4" lengthAdjust="spacingAndGlyphs">1310</tspan> <tspan x="22.8" textLength="3.1" lengthAdjust="spacingAndGlyphs">-</tspan> <tspan x="29.2" word-spacing="1.3" textLength="78.3" lengthAdjust="spacingAndGlyphs">PASSO LANCIANO</tspan></text>
<line x1="379.2" x2="379.2" y1="165.8" y2="173.7" stroke="#111" stroke-width="1.5"/>
<text transform="translate(422,224.1) rotate(-90)" font-size="10.5" fill="#3e3e3e" stroke="#3e3e3e" stroke-width="0.33"><tspan x="0" textLength="12.9" lengthAdjust="spacingAndGlyphs">349</tspan> <tspan x="15.8" textLength="2.5" lengthAdjust="spacingAndGlyphs">-</tspan> <tspan x="21.2" word-spacing="1.3" textLength="66.9" lengthAdjust="spacingAndGlyphs">Lettomanoppello</tspan></text>
<line x1="417.2" x2="417.2" y1="230.7" y2="236.5" stroke="#8a8a8a" stroke-width="1"/>
<text transform="translate(437.6,258.9) rotate(-90)" font-size="10.5" fill="#3e3e3e" stroke="#3e3e3e" stroke-width="0.33"><tspan x="0" textLength="12.9" lengthAdjust="spacingAndGlyphs">104</tspan> <tspan x="15.8" textLength="2.5" lengthAdjust="spacingAndGlyphs">-</tspan> <tspan x="21.2" word-spacing="1.3" textLength="22.6" lengthAdjust="spacingAndGlyphs">Scafa</tspan></text>
<line x1="435.1" x2="435.1" y1="265.1" y2="278.4" stroke="#8a8a8a" stroke-width="1"/>
<text transform="translate(462,241.0) rotate(-90)" font-size="10.5" fill="#3e3e3e" stroke="#3e3e3e" stroke-width="0.33"><tspan x="0" textLength="12.9" lengthAdjust="spacingAndGlyphs">422</tspan> <tspan x="15.8" textLength="2.5" lengthAdjust="spacingAndGlyphs">-</tspan> <tspan x="21.2" word-spacing="1.3" textLength="135.7" lengthAdjust="spacingAndGlyphs">San Valentino in Abruzzo Citeriore</tspan></text>
<line x1="458.5" x2="458.5" y1="247.2" y2="253" stroke="#8a8a8a" stroke-width="1"/>
<text transform="translate(507,225.9) rotate(-90)" font-size="10.5" fill="#3e3e3e" stroke="#3e3e3e" stroke-width="0.33"><tspan x="0" textLength="12.9" lengthAdjust="spacingAndGlyphs">602</tspan> <tspan x="15.8" textLength="2.5" lengthAdjust="spacingAndGlyphs">-</tspan> <tspan x="21.2" word-spacing="1.3" textLength="76.6" lengthAdjust="spacingAndGlyphs">Caramanico Terme</tspan></text>
<line x1="503" x2="503" y1="230.3" y2="237.1" stroke="#8a8a8a" stroke-width="1"/>
<text transform="translate(530.5,202.6) rotate(-90)" font-size="10.5" fill="#3e3e3e" stroke="#3e3e3e" stroke-width="0.33"><tspan x="0" textLength="12.9" lengthAdjust="spacingAndGlyphs">859</tspan> <tspan x="15.8" textLength="2.5" lengthAdjust="spacingAndGlyphs">-</tspan> <tspan x="21.2" word-spacing="1.3" textLength="92.2" lengthAdjust="spacingAndGlyphs">Sant&#39;Eufemia a Maiella</tspan></text>
<line x1="526.7" x2="526.7" y1="207" y2="213" stroke="#8a8a8a" stroke-width="1"/>
<text transform="translate(564.6,163.5) rotate(-90)" font-size="11.6" font-weight="bold" fill="#111" stroke="#111" stroke-width="0.3"><tspan x="0" textLength="19.4" lengthAdjust="spacingAndGlyphs">1282</tspan> <tspan x="22.8" textLength="3.1" lengthAdjust="spacingAndGlyphs">-</tspan> <tspan x="29.2" word-spacing="1.3" textLength="101.6" lengthAdjust="spacingAndGlyphs">PASSO SAN LEONARDO</tspan></text>
<line x1="561.7" x2="561.7" y1="167" y2="175.8" stroke="#111" stroke-width="1.5"/>
<text transform="translate(601.5,183.0) rotate(-90)" font-size="10.5" fill="#3e3e3e" stroke="#3e3e3e" stroke-width="0.33"><tspan x="0" textLength="17.2" lengthAdjust="spacingAndGlyphs">1064</tspan> <tspan x="20.1" textLength="2.5" lengthAdjust="spacingAndGlyphs">-</tspan> <tspan x="25.5" word-spacing="1.3" textLength="65.5" lengthAdjust="spacingAndGlyphs">Campo di Giove</tspan></text>
<line x1="598.2" x2="598.2" y1="189.2" y2="195" stroke="#8a8a8a" stroke-width="1"/>
<text transform="translate(620.5,194.2) rotate(-90)" font-size="10.5" fill="#3e3e3e" stroke="#3e3e3e" stroke-width="0.33"><tspan x="0" textLength="12.9" lengthAdjust="spacingAndGlyphs">843</tspan> <tspan x="15.8" textLength="2.5" lengthAdjust="spacingAndGlyphs">-</tspan> <tspan x="21.2" word-spacing="1.3" textLength="37.7" lengthAdjust="spacingAndGlyphs">Cansano</tspan></text>
<line x1="618.8" x2="618.8" y1="198" y2="207" stroke="#8a8a8a" stroke-width="1"/>
<text transform="translate(655,157.9) rotate(-90)" font-size="11.6" font-weight="bold" fill="#111" stroke="#111" stroke-width="0.3"><tspan x="0" textLength="19.4" lengthAdjust="spacingAndGlyphs">1337</tspan> <tspan x="22.8" textLength="3.1" lengthAdjust="spacingAndGlyphs">-</tspan> <tspan x="29.2" word-spacing="1.3" textLength="111.2" lengthAdjust="spacingAndGlyphs">BOSCO DI SANT&#39;ANTONIO</tspan></text>
<line x1="652.2" x2="652.2" y1="162.7" y2="172" stroke="#111" stroke-width="1.5"/>
<text transform="translate(686.4,155.9) rotate(-90)" font-size="10.5" fill="#3e3e3e" stroke="#3e3e3e" stroke-width="0.33"><tspan x="0" textLength="17.2" lengthAdjust="spacingAndGlyphs">1352</tspan> <tspan x="20.1" textLength="2.5" lengthAdjust="spacingAndGlyphs">-</tspan> <tspan x="25.5" word-spacing="1.3" textLength="60.4" lengthAdjust="spacingAndGlyphs">Pescocostanzo</tspan></text>
<line x1="686.8" x2="686.8" y1="161.5" y2="172" stroke="#8a8a8a" stroke-width="1"/>
<text transform="translate(696.9,158.8) rotate(-90)" font-size="11.6" font-weight="bold" fill="#111" stroke="#111" stroke-width="0.3"><tspan x="0" textLength="19.4" lengthAdjust="spacingAndGlyphs">1325</tspan> <tspan x="22.8" textLength="3.1" lengthAdjust="spacingAndGlyphs">-</tspan> <tspan x="29.2" word-spacing="1.3" textLength="56.6" lengthAdjust="spacingAndGlyphs">RIVISONDOLI</tspan></text>
<line x1="695" x2="695" y1="164" y2="173.5" stroke="#111" stroke-width="1.5"/>
<text transform="translate(711.5,166.1) rotate(-90)" font-size="10.5" fill="#3e3e3e" stroke="#3e3e3e" stroke-width="0.33"><tspan x="0" textLength="17.2" lengthAdjust="spacingAndGlyphs">1238</tspan> <tspan x="20.1" textLength="2.5" lengthAdjust="spacingAndGlyphs">-</tspan> <tspan x="25.5" word-spacing="1.3" textLength="44.1" lengthAdjust="spacingAndGlyphs">Roccaraso</tspan></text>
<line x1="709" x2="709" y1="171.2" y2="179.5" stroke="#8a8a8a" stroke-width="1"/>
<text transform="translate(56.9,362.6) rotate(-90)" font-size="12" font-weight="bold" fill="#111" stroke="#111" stroke-width="0.22" text-anchor="end" textLength="11.75" lengthAdjust="spacingAndGlyphs">0.0</text>
<text transform="translate(68.5,362.6) rotate(-90)" font-size="12" fill="#444" stroke="#444" stroke-width="0.4" text-anchor="end" textLength="11.25" lengthAdjust="spacingAndGlyphs">3.7</text>
<text transform="translate(87.5,362.6) rotate(-90)" font-size="12" fill="#444" stroke="#444" stroke-width="0.4" text-anchor="end" textLength="11.25" lengthAdjust="spacingAndGlyphs">9.4</text>
<text transform="translate(120.6,362.6) rotate(-90)" font-size="12" fill="#444" stroke="#444" stroke-width="0.4" text-anchor="end" textLength="15.75" lengthAdjust="spacingAndGlyphs">19.1</text>
<text transform="translate(159.2,362.6) rotate(-90)" font-size="12" fill="#444" stroke="#444" stroke-width="0.4" text-anchor="end" textLength="15.75" lengthAdjust="spacingAndGlyphs">30.4</text>
<text transform="translate(213.5,362.6) rotate(-90)" font-size="12" fill="#444" stroke="#444" stroke-width="0.4" text-anchor="end" textLength="15.75" lengthAdjust="spacingAndGlyphs">46.7</text>
<text transform="translate(234.8,362.6) rotate(-90)" font-size="12" fill="#444" stroke="#444" stroke-width="0.4" text-anchor="end" textLength="15.75" lengthAdjust="spacingAndGlyphs">53.1</text>
<text transform="translate(259.5,362.6) rotate(-90)" font-size="12" fill="#444" stroke="#444" stroke-width="0.4" text-anchor="end" textLength="15.75" lengthAdjust="spacingAndGlyphs">60.3</text>
<text transform="translate(310.3,362.6) rotate(-90)" font-size="12" font-weight="bold" fill="#111" stroke="#111" stroke-width="0.22" text-anchor="end" textLength="16.45" lengthAdjust="spacingAndGlyphs">75.6</text>
<text transform="translate(327.5,362.6) rotate(-90)" font-size="12" fill="#444" stroke="#444" stroke-width="0.4" text-anchor="end" textLength="15.75" lengthAdjust="spacingAndGlyphs">80.4</text>
<text transform="translate(350.8,362.6) rotate(-90)" font-size="12" fill="#444" stroke="#444" stroke-width="0.4" text-anchor="end" textLength="15.75" lengthAdjust="spacingAndGlyphs">87.7</text>
<text transform="translate(359.8,362.6) rotate(-90)" font-size="12" fill="#444" stroke="#444" stroke-width="0.4" text-anchor="end" textLength="15.75" lengthAdjust="spacingAndGlyphs">89.8</text>
<text transform="translate(394.5,362.6) rotate(-90)" font-size="12" font-weight="bold" fill="#111" stroke="#111" stroke-width="0.22" text-anchor="end" textLength="21.15" lengthAdjust="spacingAndGlyphs">100.4</text>
<text transform="translate(434.0,362.6) rotate(-90)" font-size="12" fill="#444" stroke="#444" stroke-width="0.4" text-anchor="end" textLength="20.25" lengthAdjust="spacingAndGlyphs">111.7</text>
<text transform="translate(451.3,362.6) rotate(-90)" font-size="12" fill="#444" stroke="#444" stroke-width="0.4" text-anchor="end" textLength="20.25" lengthAdjust="spacingAndGlyphs">117.1</text>
<text transform="translate(474.5,362.6) rotate(-90)" font-size="12" fill="#444" stroke="#444" stroke-width="0.4" text-anchor="end" textLength="20.25" lengthAdjust="spacingAndGlyphs">124.1</text>
<text transform="translate(519.2,362.6) rotate(-90)" font-size="12" fill="#444" stroke="#444" stroke-width="0.4" text-anchor="end" textLength="20.25" lengthAdjust="spacingAndGlyphs">137.1</text>
<text transform="translate(543.3,362.6) rotate(-90)" font-size="12" fill="#444" stroke="#444" stroke-width="0.4" text-anchor="end" textLength="20.25" lengthAdjust="spacingAndGlyphs">144.4</text>
<text transform="translate(577.8,362.6) rotate(-90)" font-size="12" font-weight="bold" fill="#111" stroke="#111" stroke-width="0.22" text-anchor="end" textLength="21.15" lengthAdjust="spacingAndGlyphs">154.7</text>
<text transform="translate(614.5,362.6) rotate(-90)" font-size="12" fill="#444" stroke="#444" stroke-width="0.4" text-anchor="end" textLength="20.25" lengthAdjust="spacingAndGlyphs">165.6</text>
<text transform="translate(634.4,362.6) rotate(-90)" font-size="12" fill="#444" stroke="#444" stroke-width="0.4" text-anchor="end" textLength="20.25" lengthAdjust="spacingAndGlyphs">171.5</text>
<text transform="translate(668.0,362.6) rotate(-90)" font-size="12" font-weight="bold" fill="#111" stroke="#111" stroke-width="0.22" text-anchor="end" textLength="21.15" lengthAdjust="spacingAndGlyphs">181.4</text>
<text transform="translate(699.3,362.6) rotate(-90)" font-size="12" fill="#444" stroke="#444" stroke-width="0.4" text-anchor="end" textLength="20.25" lengthAdjust="spacingAndGlyphs">191.7</text>
<text transform="translate(711.2,362.6) rotate(-90)" font-size="12" font-weight="bold" fill="#111" stroke="#111" stroke-width="0.22" text-anchor="end" textLength="21.15" lengthAdjust="spacingAndGlyphs">194.0</text>
<text transform="translate(723.6,362.6) rotate(-90)" font-size="12" fill="#444" stroke="#444" stroke-width="0.4" text-anchor="end" textLength="20.25" lengthAdjust="spacingAndGlyphs">198.8</text>
<text transform="translate(756.8,362.6) rotate(-90)" font-size="12" font-weight="bold" fill="#111" stroke="#111" stroke-width="0.22" text-anchor="end" textLength="21.15" lengthAdjust="spacingAndGlyphs">208.0</text>
<path d="M55.5,393.8 V402.3 H754.2 V393.8 M392,393.8 V402.3 M560.7,393.8 V402.3" fill="none" stroke="#9a9a9a" stroke-width="1.5"/>
<text x="214.2" y="399.4" font-size="12.2" fill="#a6a6a6" text-anchor="middle" textLength="10.5" lengthAdjust="spacingAndGlyphs">CH</text>
<text x="478.2" y="399.4" font-size="12.2" fill="#a6a6a6" text-anchor="middle" textLength="10.5" lengthAdjust="spacingAndGlyphs">PE</text>
<text x="653.7" y="399.4" font-size="12.2" fill="#a6a6a6" text-anchor="middle" textLength="10.5" lengthAdjust="spacingAndGlyphs">AQ</text>
<circle cx="308.2" cy="328.9" r="9.9" fill="url(#gS)" stroke="#6d145f" stroke-width="1.1"/>
<text x="308.3" y="334.8" font-size="16" font-weight="bold" font-style="italic" fill="#fff" stroke="#fff" stroke-width="0.3" text-anchor="middle">S</text>
<circle cx="392.4" cy="328.7" r="9.9" fill="url(#gB)" stroke="#0d2760" stroke-width="1.2"/>
<ellipse cx="392.4" cy="321.3" rx="2.7" ry="1.1" fill="#86baf0"/>
<polygon points="384.3,324.8 400.5,324.8 392.4,337.9" fill="#fff" stroke="#12306e" stroke-width="0.6" stroke-linejoin="round"/>
<text x="392.7" y="333.3" font-size="11" font-weight="bold" font-style="italic" fill="#111" stroke="#111" stroke-width="0.5" text-anchor="middle" textLength="3.4" lengthAdjust="spacingAndGlyphs">1</text>
<circle cx="448.9" cy="329" r="9.8" fill="#e04a2b" stroke="#5c1f12" stroke-width="1.4"/>
<path d="M442.8,321.8 h5.4 v4.3 q0,1.7 -1.3,2.1 v7.9 h-2.8 v-7.9 q-1.3,-0.4 -1.3,-2.1 z" fill="#fff"/>
<path d="M444.4,321.8 v3.4 M446.6,321.8 v3.4" stroke="#7a5a52" stroke-width="0.7" fill="none"/>
<path d="M449.8,321.8 h2.6 q2.4,0.6 2.4,4.6 v9.7 h-2.9 v-6.2 h-2.1 z" fill="#fff"/>
<circle cx="575.2" cy="328.7" r="9.9" fill="url(#gB)" stroke="#0d2760" stroke-width="1.2"/>
<ellipse cx="575.2" cy="321.3" rx="2.7" ry="1.1" fill="#86baf0"/>
<polygon points="567.1,324.8 583.3,324.8 575.2,337.9" fill="#fff" stroke="#12306e" stroke-width="0.6" stroke-linejoin="round"/>
<text x="575.5" y="333.3" font-size="11" font-weight="bold" font-style="italic" fill="#111" stroke="#111" stroke-width="0.5" text-anchor="middle" textLength="4.6" lengthAdjust="spacingAndGlyphs">2</text>
<circle cx="665.5" cy="328.7" r="9.9" fill="url(#gB)" stroke="#0d2760" stroke-width="1.2"/>
<ellipse cx="665.5" cy="321.3" rx="2.7" ry="1.1" fill="#86baf0"/>
<polygon points="657.4,324.8 673.6,324.8 665.5,337.9" fill="#fff" stroke="#12306e" stroke-width="0.6" stroke-linejoin="round"/>
<text x="665.8" y="333.3" font-size="11" font-weight="bold" font-style="italic" fill="#111" stroke="#111" stroke-width="0.5" text-anchor="middle" textLength="4.6" lengthAdjust="spacingAndGlyphs">2</text>
<circle cx="708.1" cy="328.9" r="9.9" fill="url(#gS)" stroke="#6d145f" stroke-width="1.1"/>
<text x="708.2" y="334.8" font-size="16" font-weight="bold" font-style="italic" fill="#fff" stroke="#fff" stroke-width="0.3" text-anchor="middle">S</text>
<circle cx="754.2" cy="328.7" r="9.9" fill="url(#gB)" stroke="#0d2760" stroke-width="1.2"/>
<ellipse cx="754.2" cy="321.3" rx="2.7" ry="1.1" fill="#86baf0"/>
<polygon points="746.1,324.8 762.3,324.8 754.2,337.9" fill="#fff" stroke="#12306e" stroke-width="0.6" stroke-linejoin="round"/>
<text x="754.5" y="333.3" font-size="11" font-weight="bold" font-style="italic" fill="#111" stroke="#111" stroke-width="0.5" text-anchor="middle" textLength="3.4" lengthAdjust="spacingAndGlyphs">1</text>
<path d="M15.9,173.45 H32 Q35.45,173.45 35.45,176.9 V304.5 A11.5,11.5 0 0 1 12.45,304.5 V176.9 Q12.45,173.45 15.9,173.45 Z" fill="url(#gstart)" stroke="#1fa64b" stroke-width="2.9"/>
<circle cx="24" cy="304.5" r="9.7" fill="url(#gG)" stroke="#0a3f1d" stroke-width="1.4"/>
<g transform="translate(24,304.6) scale(1.0)" fill="none" stroke="#fff"><circle cx="-5.6" cy="3.1" r="2.5" stroke-width="1.3"/><circle cx="5.0" cy="3.1" r="2.5" stroke-width="1.3"/><path d="M-5.6,3.1 L-2.4,-1.4 H2.8 L5,3.1 M-2.4,-1.4 L0.2,3.1 L2.8,-1.4" stroke-width="1"/><path d="M-4,-2.4 Q-3.2,-6.2 0.8,-6.4 L4.6,-5.8 Q5.9,-5.2 5,-3.8 L2.4,-3.6 L1.2,-1 L-1.8,-1 Z" fill="#fff" stroke="#fff" stroke-width="0.5" stroke-linejoin="round"/><circle cx="5.3" cy="-6.3" r="1.6" fill="#fff" stroke="none"/></g>
<text transform="translate(29.0,287.6) rotate(-90)" font-size="16" font-weight="bold" fill="#111" stroke="#111" stroke-width="0.55" textLength="8.0" lengthAdjust="spacingAndGlyphs">5</text>
<text transform="translate(29.0,274.6) rotate(-90)" font-size="16" font-weight="bold" fill="#111" stroke="#111" stroke-width="0.55" textLength="5.0" lengthAdjust="spacingAndGlyphs">-</text>
<text transform="translate(29.0,264.5) rotate(-90)" font-size="16" font-weight="bold" fill="#111" stroke="#111" stroke-width="0.55" textLength="81.2" lengthAdjust="spacingAndGlyphs">SAN SALVO</text>
<path d="M764.2,26 H780.6 Q784,26 784,29.4 V262.9 A11.6,11.6 0 0 1 760.8,262.9 V29.4 Q760.8,26 764.2,26 Z" fill="url(#gfin)" stroke="#e2141b" stroke-width="2.8"/>
<circle cx="772.4" cy="262.9" r="9.7" fill="url(#gR)" stroke="#560c08" stroke-width="1.4"/>
<g transform="translate(772.4,263) scale(1.0)" fill="none" stroke="#fff"><circle cx="-5.6" cy="3.1" r="2.5" stroke-width="1.3"/><circle cx="5.0" cy="3.1" r="2.5" stroke-width="1.3"/><path d="M-5.6,3.1 L-2.4,-1.4 H2.8 L5,3.1 M-2.4,-1.4 L0.2,3.1 L2.8,-1.4" stroke-width="1"/><path d="M-4,-2.4 Q-3.2,-6.2 0.8,-6.4 L4.6,-5.8 Q5.9,-5.2 5,-3.8 L2.4,-3.6 L1.2,-1 L-1.8,-1 Z" fill="#fff" stroke="#fff" stroke-width="0.5" stroke-linejoin="round"/><circle cx="5.3" cy="-6.3" r="1.6" fill="#fff" stroke="none"/></g>
<text transform="translate(778.2,248.6) rotate(-90)" font-size="16" font-weight="bold" fill="#111" stroke="#111" stroke-width="0.55" textLength="30.0" lengthAdjust="spacingAndGlyphs">1658</text>
<text transform="translate(778.2,214.2) rotate(-90)" font-size="16" font-weight="bold" fill="#111" stroke="#111" stroke-width="0.55" textLength="5.6" lengthAdjust="spacingAndGlyphs">-</text>
<text transform="translate(778.2,203.5) rotate(-90)" font-size="16" font-weight="bold" fill="#111" stroke="#111" stroke-width="0.55" textLength="92.3" lengthAdjust="spacingAndGlyphs">ROCCARASO</text>
<text transform="translate(778.2,106.4) rotate(-90)" font-size="16" font-weight="bold" fill="#111" stroke="#111" stroke-width="0.55" textLength="73.5" lengthAdjust="spacingAndGlyphs">(Aremogna)</text>
<text transform="translate(766.2,311.8) rotate(-90)" font-size="10.5" font-weight="bold" fill="#111" textLength="27" lengthAdjust="spacingAndGlyphs">SDS</text>
</svg></body></html>
